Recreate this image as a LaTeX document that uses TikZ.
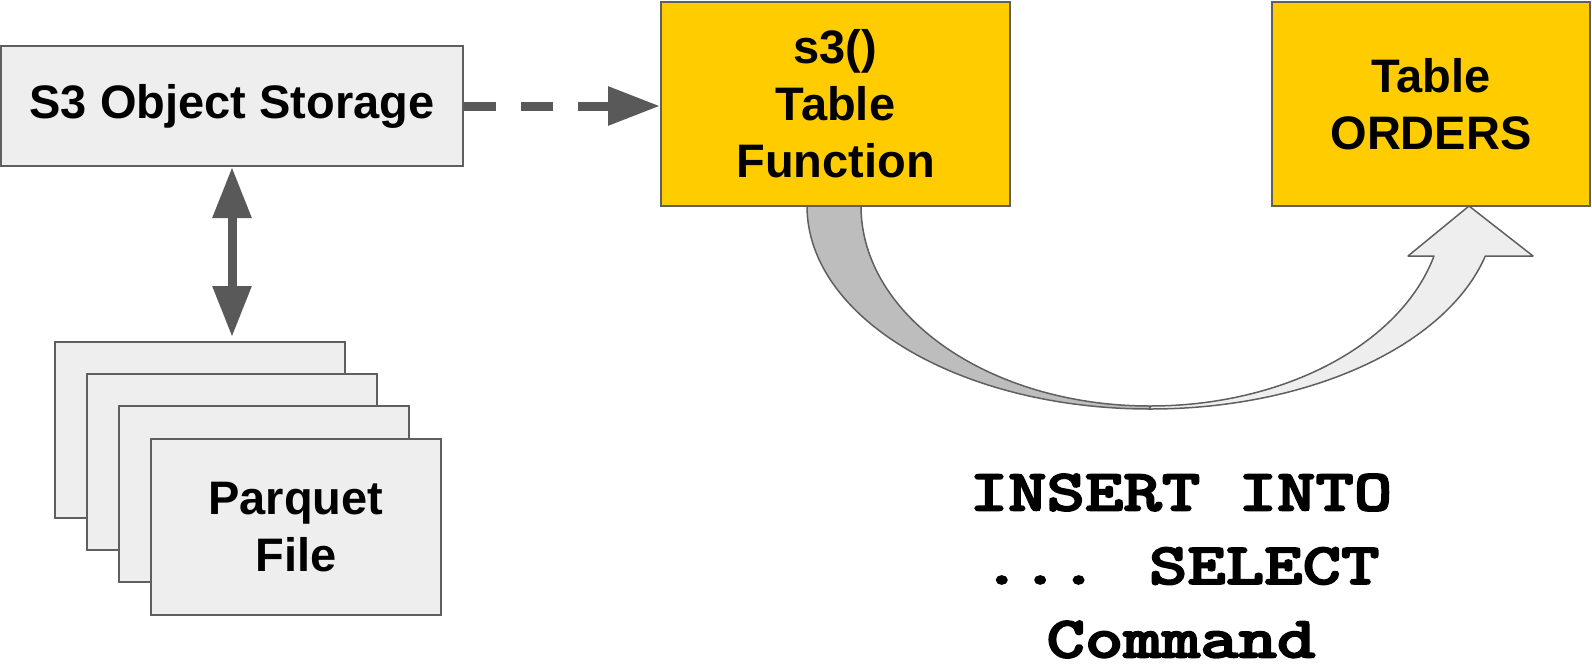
\documentclass[tikz,border=0pt]{standalone}
\usepackage{fontspec}
\usepackage{graphicx}
\setmainfont{Liberation Sans}
\newfontfamily\codefont[FakeBold=2.6]{lmmonolt10-bold.otf}
\usetikzlibrary{arrows.meta}
\definecolor{boxgray}{HTML}{EEEEEE}
\definecolor{edgegray}{HTML}{5F5F5F}
\definecolor{gold}{HTML}{FFCC00}
\definecolor{bandgray}{HTML}{BDBDBD}
\definecolor{arrowgray}{HTML}{595959}
\newcommand{\widecode}[1]{\scalebox{1.24}[1]{#1}}
\begin{document}
\begin{tikzpicture}[x=1pt,y=-1pt,
  box/.style={draw=edgegray, line width=2pt, rectangle, inner sep=0pt, align=center,
    font=\fontsize{47}{57}\selectfont\bfseries},
  graybox/.style={box, fill=boxgray},
  goldbox/.style={box, fill=gold},
  conn/.style={draw=arrowgray, line width=9pt},
  band/.style={draw=edgegray, line width=1.5pt, line join=round}]
\useasboundingbox (0,0) rectangle (1592,670);

% curved arrow (drawn first, boxes cover its ends)
\path[band, fill=bandgray] (807,206)
  arc[start angle=180, end angle=90, x radius=343, y radius=203]
  -- (1150,406)
  arc[start angle=90, end angle=180, x radius=289, y radius=200] -- cycle;
\path[band, fill=boxgray] (1150,409)
  arc[start angle=90, end angle=14.3, x radius=346, y radius=203]
  -- (1533,256) -- (1469,206) -- (1408,256) -- (1434,256)
  arc[start angle=14.48, end angle=90, x radius=293, y radius=200] -- cycle;

% boxes
\node[graybox, minimum width=462, minimum height=120] (s3) at (232,106) {S3 Object Storage};
\node[goldbox, minimum width=349, minimum height=204] (tf) at (835.5,104) {s3()\\Table\\Function};
\node[goldbox, minimum width=318, minimum height=204] (ord) at (1431,104) {Table\\ORDERS};

\node[graybox, minimum width=290, minimum height=176] (f1) at (200,430) {};
\node[graybox, minimum width=290, minimum height=176] (f2) at (232,462) {};
\node[graybox, minimum width=290, minimum height=176] (f3) at (264,494) {};
\node[graybox, minimum width=290, minimum height=176] (f4) at (296,527) {Parquet\\File};

% connectors
\draw[conn, dash pattern=on 32pt off 25pt, -{Triangle[length=52pt,width=37pt]}]
  (s3.east) -- (s3.east -| tf.west);
\draw[conn, shorten >=4pt, {Triangle[length=51pt,width=37pt]}-{Triangle[length=51pt,width=37pt]}]
  (s3.south) -- (s3.south |- f1.north);

% command text
\node[inner sep=0pt, align=center, font=\codefont\fontsize{59}{73.5}\selectfont]
  (cmd) at (1181,566) {\widecode{INSERT INTO}\\\widecode{... SELECT}\\\widecode{Command}};
\end{tikzpicture}
\end{document}
